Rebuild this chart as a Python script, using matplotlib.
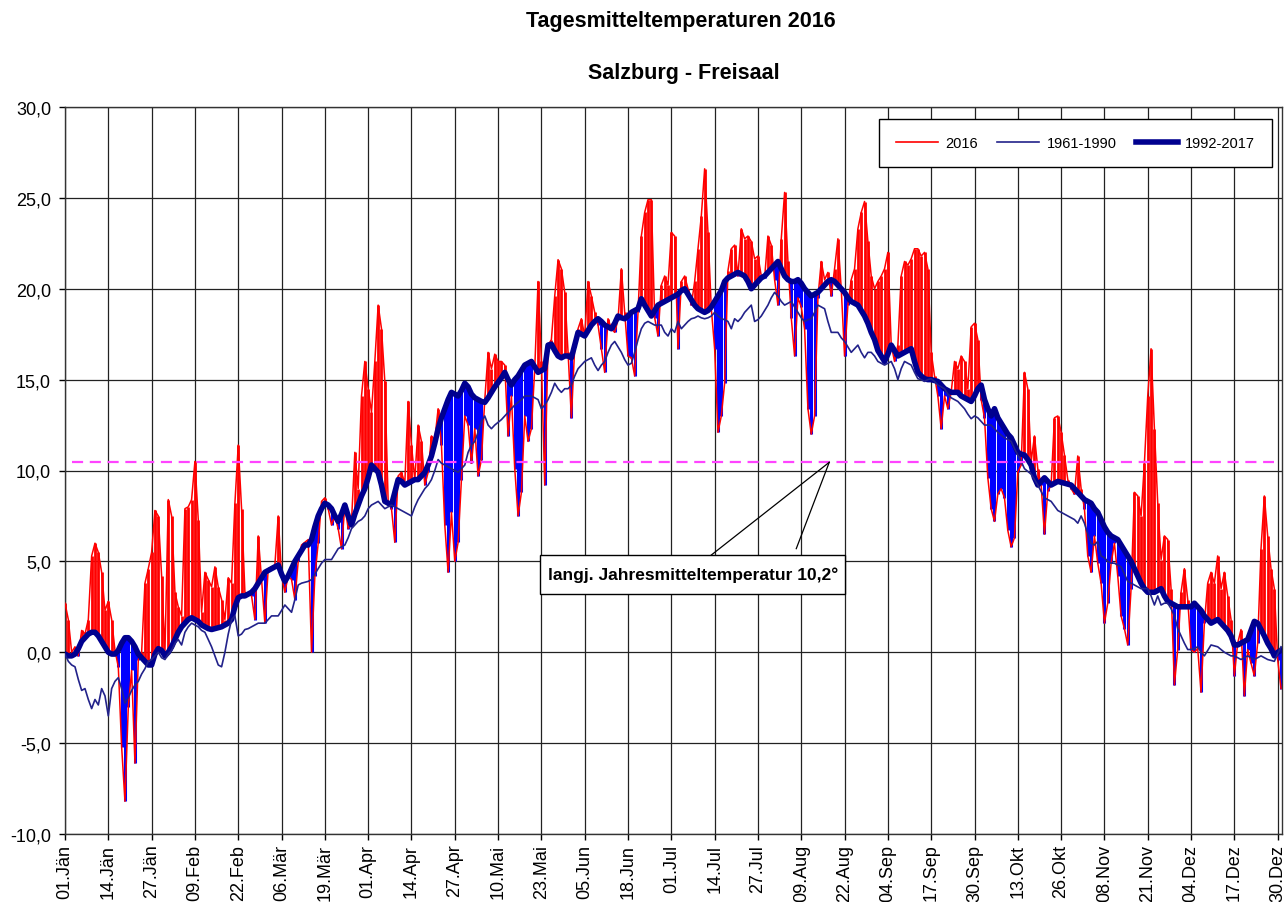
import numpy as np
import matplotlib
matplotlib.use("Agg")
import matplotlib.pyplot as plt
from matplotlib.lines import Line2D
from matplotlib.patches import Rectangle

plt.rcParams['font.family'] = ['Liberation Sans', 'DejaVu Sans']

# ---------------- data ----------------
title = "Tagesmitteltemperaturen 2016"
subtitle = "Salzburg - Freisaal"
series_names = ["2016", "1961-1990", "1992-2017"]

tick_labels = ["01.Jän", "14.Jän", "27.Jän", "09.Feb", "22.Feb", "06.Mär", "19.Mär",
               "01.Apr", "14.Apr", "27.Apr", "10.Mai", "23.Mai", "05.Jun", "18.Jun",
               "01.Jul", "14.Jul", "27.Jul", "09.Aug", "22.Aug", "04.Sep", "17.Sep",
               "30.Sep", "13.Okt", "26.Okt", "08.Nov", "21.Nov", "04.Dez", "17.Dez",
               "30.Dez"]
tick_days = list(range(0, 365, 13))

mean_line_value = 10.45
mean_label = "langj. Jahresmitteltemperatur 10,2°"

# daily mean 2016 (rows of 10 days)
t2016 = [
    2.7, 1.8, 0.0, 0.3, -0.2, 1.2, 1.0, 1.8, 5.3, 6.0,
    5.5, 4.4, 2.3, 2.8, 1.8, 0.1, -0.8, -5.2, -8.2, -3.0,
    -1.0, -6.1, -0.4, 0.0, 3.8, 4.6, 5.5, 7.8, 7.5, 4.2,
    0.0, 8.4, 7.5, 3.3, 2.5, 2.0, 7.9, 8.0, 8.4, 10.5,
    7.3, 2.2, 4.4, 4.0, 3.6, 4.7, 3.6, 2.9, 1.8, 4.1,
    3.8, 8.2, 11.4, 7.9, 3.3, 3.2, 3.1, 1.8, 6.4, 4.0,
    1.6, 4.6, 4.7, 4.8, 7.5, 4.2, 3.3, 4.2, 4.0, 2.9,
    5.0, 5.9, 6.05, 6.2, 0.0, 4.2, 6.0, 8.3, 8.5, 7.9,
    7.0, 7.5, 6.8, 5.7, 8.1, 6.8, 7.2, 11.0, 9.0, 14.1,
    16.0, 14.5, 13.2, 16.0, 19.1, 17.8, 14.9, 8.3, 7.9, 6.05,
    9.7, 9.9, 9.3, 13.8, 11.4, 9.5, 12.5, 11.6, 9.2, 9.9,
    11.9, 11.7, 13.4, 11.4, 7.0, 4.4, 7.7, 5.0, 6.05, 9.5,
    13.0, 12.5, 10.4, 12.3, 9.7, 10.6, 13.9, 16.5, 15.6, 16.4,
    16.0, 16.0, 15.8, 11.9, 14.1, 10.1, 7.5, 8.8, 13.0, 11.6,
    12.3, 15.6, 20.4, 16.0, 9.2, 16.9, 17.2, 19.6, 21.6, 21.1,
    19.8, 16.5, 12.9, 16.8, 17.8, 18.35, 17.4, 20.4, 19.6, 18.7,
    18.0, 16.7, 15.4, 18.35, 17.8, 17.6, 18.3, 21.1, 18.7, 16.3,
    16.2, 15.2, 18.7, 22.9, 24.2, 24.9, 24.9, 18.4, 17.4, 20.2,
    20.7, 20.2, 23.1, 22.9, 16.7, 20.4, 20.7, 20.0, 19.1, 20.4,
    22.2, 24.0, 26.6, 23.1, 18.9, 16.7, 12.1, 13.0, 14.8, 21.0,
    22.2, 22.4, 20.7, 23.3, 22.75, 22.9, 22.6, 21.65, 21.8, 20.7,
    20.6, 22.9, 22.4, 20.5, 19.1, 22.75, 25.3, 21.5, 18.4, 16.3,
    19.5, 19.0, 17.8, 13.4, 12.0, 13.0, 19.5, 21.5, 20.5, 20.9,
    19.6, 21.1, 22.75, 20.0, 16.3, 19.1, 20.5, 21.1, 23.3, 24.2,
    24.8, 22.6, 20.7, 20.0, 20.4, 20.7, 21.1, 22.0, 16.9, 16.0,
    16.9, 20.7, 21.5, 21.3, 21.65, 22.2, 22.2, 21.8, 22.0, 21.1,
    16.5, 15.2, 14.1, 12.3, 14.1, 13.4, 14.3, 16.0, 15.6, 16.3,
    16.0, 14.5, 17.9, 18.1, 17.2, 13.9, 12.9, 9.6, 7.9, 7.2,
    8.7, 9.0, 8.5, 6.7, 5.8, 6.3, 9.9, 10.3, 15.4, 14.5,
    10.5, 11.9, 10.1, 9.2, 6.5, 8.85, 9.2, 12.9, 13.0, 12.1,
    10.85, 9.5, 9.0, 8.7, 10.8, 9.0, 7.9, 5.3, 4.4, 6.4,
    4.9, 3.8, 1.6, 2.7, 4.9, 6.0, 4.2, 2.0, 1.3, 0.4,
    3.5, 8.8, 8.6, 7.5, 10.4, 14.1, 16.7, 12.3, 8.2, 5.1,
    6.4, 6.2, 3.5, -1.8, 0.15, 3.3, 4.6, 2.9, 0.15, 0.0,
    0.2, -2.2, 1.6, 3.8, 4.4, 3.8, 5.3, 3.5, 4.4, 3.1,
    1.8, -1.3, 0.5, 1.25, -2.4, 0.15, -0.6, -1.3, 0.5, 5.7,
    8.6, 6.4, 4.6, 3.5, -0.4, -2.0,
]

# long-term mean 1961-1990
t6190 = [
    -0.1, -0.5, -0.7, -0.8, -1.5, -2.1, -2.0, -2.6, -3.1, -2.6,
    -2.9, -2.0, -2.4, -3.5, -2.0, -1.6, -1.4, -2.0, -2.8, -2.5,
    -2.1, -1.8, -1.6, -1.2, -0.9, -0.5, -0.4, -0.2, 0.0, -0.3,
    -0.4, -0.1, 0.1, 0.5, 0.7, 0.4, 1.1, 1.4, 1.6, 1.5,
    1.4, 1.2, 1.1, 0.7, 0.3, -0.2, -0.7, -0.8, 0.0, 1.0,
    1.8, 2.0, 0.9, 1.0, 1.25, 1.3, 1.4, 1.5, 1.6, 1.6,
    1.6, 1.8, 2.0, 2.0, 2.0, 2.3, 2.6, 2.4, 2.2, 2.9,
    3.7, 3.8, 3.85, 3.9, 4.0, 4.3, 4.6, 4.9, 5.1, 5.1,
    5.1, 5.4, 5.7, 5.8, 5.9, 6.3, 6.8, 7.0, 7.2, 7.3,
    7.5, 7.9, 8.1, 8.2, 8.3, 8.1, 7.9, 8.0, 8.1, 8.0,
    7.9, 7.8, 7.7, 7.6, 7.5, 8.0, 8.4, 8.7, 9.0, 9.2,
    9.5, 10.0, 10.6, 10.4, 10.3, 10.2, 10.1, 10.0, 9.9, 10.1,
    10.3, 11.0, 11.4, 11.6, 12.1, 12.7, 13.0, 12.5, 12.3, 12.5,
    12.65, 12.8, 13.0, 13.2, 13.4, 13.6, 13.75, 13.9, 14.1, 14.1,
    14.1, 14.0, 13.9, 13.4, 13.6, 13.9, 14.3, 14.8, 14.5, 14.3,
    14.5, 14.5, 14.7, 15.2, 15.6, 15.8, 16.0, 16.1, 16.2, 15.8,
    15.5, 15.8, 16.0, 16.5, 16.9, 17.1, 16.8, 16.5, 16.1, 15.8,
    15.9, 16.5, 17.2, 17.8, 18.1, 18.2, 18.1, 18.0, 18.0, 18.0,
    17.6, 17.4, 17.8, 17.6, 18.2, 17.8, 18.0, 18.2, 18.35, 18.4,
    18.5, 18.4, 18.35, 18.4, 18.5, 18.7, 18.5, 18.35, 18.3, 18.2,
    17.8, 18.35, 18.2, 18.4, 18.7, 18.9, 19.1, 18.2, 18.3, 18.5,
    18.8, 19.1, 19.5, 19.8, 19.6, 19.3, 19.1, 19.2, 19.3, 19.0,
    18.7, 18.4, 18.2, 18.3, 18.35, 18.7, 19.1, 19.0, 18.9, 18.2,
    17.6, 17.6, 17.6, 17.3, 17.1, 16.8, 16.5, 16.7, 16.9, 16.5,
    16.2, 16.5, 16.5, 16.3, 16.0, 15.9, 15.8, 15.9, 16.0, 15.6,
    15.0, 15.6, 16.0, 15.9, 15.8, 15.4, 15.05, 15.0, 14.9, 15.0,
    15.05, 14.9, 14.7, 14.6, 14.5, 14.2, 14.0, 13.9, 13.8, 13.6,
    13.4, 13.1, 12.85, 13.0, 12.9, 12.7, 12.5, 12.5, 12.5, 12.3,
    12.1, 11.95, 11.8, 11.7, 11.6, 11.2, 10.85, 10.5, 10.1, 9.95,
    9.8, 9.5, 9.2, 8.85, 8.5, 8.4, 8.3, 8.05, 7.8, 7.7,
    7.6, 7.5, 7.4, 7.3, 7.1, 7.5, 7.1, 6.5, 6.0, 5.9,
    6.1, 5.3, 5.2, 5.0, 4.9, 4.9, 4.8, 4.7, 4.3, 3.9,
    3.8, 3.7, 3.6, 3.5, 3.5, 3.5, 3.1, 2.6, 3.1, 2.6,
    2.7, 2.7, 2.4, 2.0, 1.3, 0.9, 0.5, 0.15, 0.15, 0.2,
    0.3, 0.0, -0.2, 0.1, 0.4, 0.35, 0.3, 0.15, 0.0, -0.1,
    -0.2, -0.2, -0.3, -0.4, -0.3, -0.2, -0.3, -0.4, -0.3, -0.2,
    -0.3, -0.4, -0.45, -0.5, -0.1, 0.3,
]

# long-term mean 1992-2017
t9217 = [
    -0.1, -0.2, -0.2, -0.1, 0.2, 0.6, 0.8, 1.0, 1.1, 1.1,
    0.9, 0.6, 0.3, 0.0, -0.1, -0.1, 0.1, 0.5, 0.8, 0.8,
    0.6, 0.3, -0.1, -0.3, -0.5, -0.7, -0.7, -0.1, 0.2, 0.1,
    -0.2, 0.0, 0.3, 0.7, 1.1, 1.4, 1.6, 1.8, 1.9, 1.8,
    1.7, 1.5, 1.4, 1.3, 1.25, 1.3, 1.35, 1.4, 1.5, 1.6,
    1.8, 2.5, 3.0, 3.1, 3.1, 3.2, 3.3, 3.5, 3.8, 4.1,
    4.4, 4.5, 4.6, 4.7, 4.8, 4.3, 3.9, 4.2, 4.6, 5.0,
    5.3, 5.6, 5.9, 5.9, 6.2, 6.9, 7.5, 7.9, 8.2, 8.1,
    7.9, 7.5, 7.2, 7.6, 8.1, 7.5, 7.0, 7.6, 8.1, 8.6,
    9.0, 9.6, 10.3, 10.1, 9.9, 9.2, 8.3, 8.2, 8.1, 8.8,
    9.5, 9.4, 9.2, 9.3, 9.4, 9.5, 9.5, 9.7, 9.9, 10.3,
    10.8, 11.5, 12.3, 12.9, 13.4, 13.9, 14.3, 14.2, 14.1, 14.4,
    14.8, 14.6, 14.2, 14.0, 13.9, 13.8, 13.75, 14.0, 14.3, 14.6,
    14.85, 15.1, 15.4, 15.0, 14.7, 15.0, 15.2, 15.5, 15.8, 15.9,
    16.0, 15.7, 15.4, 15.5, 15.6, 16.9, 16.95, 16.6, 16.3, 16.2,
    16.3, 16.3, 16.2, 16.9, 17.6, 17.5, 17.4, 17.7, 18.0, 18.2,
    18.35, 18.2, 18.0, 17.9, 17.8, 18.1, 18.5, 18.4, 18.35, 18.5,
    18.7, 18.8, 18.9, 19.45, 19.1, 18.8, 18.5, 18.8, 19.1, 19.2,
    19.3, 19.4, 19.5, 19.6, 19.7, 19.9, 20.0, 19.7, 19.4, 19.1,
    18.9, 18.8, 18.7, 18.8, 19.0, 19.3, 19.6, 19.9, 20.4, 20.6,
    20.7, 20.8, 20.9, 20.8, 20.7, 20.4, 20.0, 20.2, 20.4, 20.6,
    20.7, 20.9, 21.1, 21.3, 21.5, 21.1, 20.7, 20.5, 20.4, 20.4,
    20.5, 20.3, 20.0, 19.8, 19.6, 19.7, 19.8, 20.0, 20.2, 20.4,
    20.5, 20.4, 20.2, 20.0, 19.8, 19.5, 19.3, 19.2, 19.1, 18.8,
    18.5, 18.1, 17.6, 17.2, 16.6, 16.3, 16.0, 16.4, 16.9, 16.6,
    16.3, 16.4, 16.5, 16.6, 16.7, 16.0, 15.4, 15.2, 15.05, 15.0,
    15.0, 14.95, 14.9, 14.7, 14.5, 14.4, 14.3, 14.3, 14.3, 14.1,
    14.0, 13.9, 13.8, 14.1, 14.5, 14.7, 13.9, 13.4, 13.0, 13.4,
    12.9, 12.6, 12.3, 12.0, 11.8, 11.4, 11.0, 10.9, 10.85, 10.6,
    10.3, 9.6, 9.2, 9.4, 9.6, 9.4, 9.2, 9.3, 9.4, 9.35,
    9.3, 9.25, 9.2, 9.0, 8.8, 8.6, 8.4, 8.3, 8.2, 7.9,
    7.7, 7.3, 6.9, 6.6, 6.4, 6.3, 6.2, 5.9, 5.6, 5.3,
    5.0, 4.6, 4.2, 3.8, 3.5, 3.3, 3.3, 3.3, 3.4, 3.5,
    3.1, 2.8, 2.7, 2.6, 2.5, 2.5, 2.5, 2.5, 2.5, 2.7,
    2.5, 2.3, 2.0, 1.8, 1.6, 1.7, 1.8, 1.6, 1.4, 1.2,
    0.9, 0.4, 0.4, 0.5, 0.6, 0.7, 1.2, 1.7, 1.6, 1.25,
    0.9, 0.5, 0.2, -0.2, 0.0, 0.1,
]

# ---------------- figure ----------------
n = min(len(t2016), len(t6190), len(t9217))
red = np.array(t2016[:n])
old = np.array(t6190[:n])
new = np.array(t9217[:n])
days = np.arange(n)

W, H = 1285, 903
fig = plt.figure(figsize=(W / 100, H / 100), dpi=100)
L, R, T, B = 65, 1282, 108, 835
ax = fig.add_axes([L / W, 1 - B / H, (R - L) / W, (B - T) / H])
ax.set_xlim(0, 365.3)
ax.set_ylim(-10, 30)

up = red >= new
ax.vlines(days[up], new[up], red[up], color='#ff0000', lw=2.0, zorder=2)
ax.vlines(days[~up], red[~up], new[~up], color='#0000ff', lw=2.2, zorder=2)
ax.plot(days, red, color='#ff0000', lw=1.1, zorder=3)
ax.plot(days, new, color='#00008f', lw=4.0, zorder=4, solid_joinstyle='round')
ax.plot(days, old, color='#22228a', lw=1.2, zorder=5)

# long-term mean dashed line
ax.plot([2, 363], [mean_line_value, mean_line_value], color='#ff44ff', lw=1.6,
        ls=(0, (5, 3)), zorder=6)

# callout box
bx0, bx1, by0, by1 = 142.7, 234.2, 3.2, 5.35
tipx, tipy = 229.4, mean_line_value
ax.plot([194.0, tipx], [by1, tipy], color='black', lw=0.9, zorder=7)
ax.plot([219.5, tipx], [by1 + 0.35, tipy], color='black', lw=0.9, zorder=7)
ax.add_patch(Rectangle((bx0, by0), bx1 - bx0, by1 - by0, facecolor='white',
                       edgecolor='black', lw=1.0, zorder=8))
ax.text((bx0 + bx1) / 2, (by0 + by1) / 2, mean_label, ha='center', va='center',
        fontsize=12.5, fontweight='bold', zorder=9)

# axes styling
ax.set_xticks(tick_days)
ax.set_xticklabels(tick_labels, rotation=90, fontsize=13)
yt = np.arange(-10, 31, 5)
ax.set_yticks(yt)
ax.set_yticklabels([f"{v:.1f}".replace('.', ',') for v in yt], fontsize=13)
ax.tick_params(axis='both', direction='out', length=4, width=1, color='black')
ax.tick_params(axis='y', pad=6)
ax.tick_params(axis='x', pad=3)
ax.grid(True, color='#222222', lw=0.9, zorder=1)
ax.set_axisbelow(True)
for s in ax.spines.values():
    s.set_color('#333333')
    s.set_linewidth(1.0)

# legend
handles = [Line2D([], [], color='#ff0000', lw=1.2),
           Line2D([], [], color='#22228a', lw=1.2),
           Line2D([], [], color='#00008f', lw=4.0)]
leg = ax.legend(handles, series_names, ncol=3, loc='upper right',
                bbox_to_anchor=((1272 - L) / (R - L), (B - 120) / (B - T)),
                fontsize=10.5, frameon=True, fancybox=False, framealpha=1,
                edgecolor='black', borderpad=1.15, handlelength=2.9,
                handletextpad=0.5, columnspacing=1.3, borderaxespad=0)
leg.get_frame().set_linewidth(1.0)
leg.set_zorder(10)

fig.text(681 / W, 1 - 22 / H, title, ha='center', va='center', fontsize=15.5,
         fontweight='bold')
fig.text(684 / W, 1 - 73 / H, subtitle, ha='center', va='center', fontsize=15.5,
         fontweight='bold')

fig.savefig("out.png", dpi=100)
